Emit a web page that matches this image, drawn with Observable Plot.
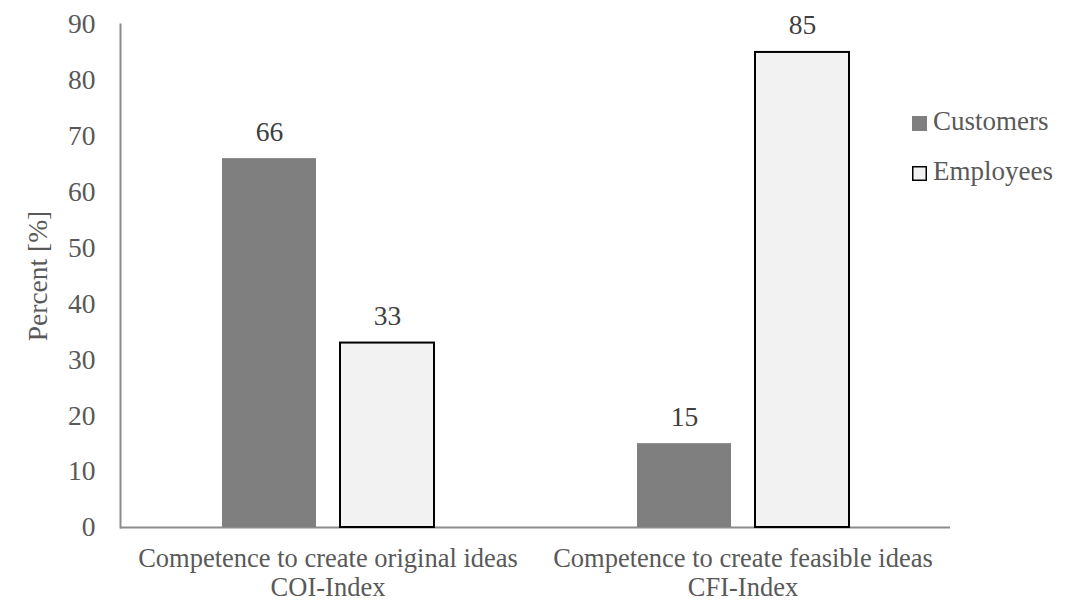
<!DOCTYPE html>
<html>
<head>
<meta charset="utf-8">
<script src="https://cdn.jsdelivr.net/npm/d3@7"></script>
<script src="https://cdn.jsdelivr.net/npm/@observablehq/plot@0.6"></script>
<style>
  html, body { margin: 0; padding: 0; background: #fff; }
  #wrap { position: relative; width: 1068px; height: 603px; }
  #chart { position: absolute; left: 0; top: 0; }
  #legend { position: absolute; left: 0; top: 0; }
  svg text { font-family: "Liberation Serif", "Times New Roman", Times, "DejaVu Serif", serif; }
</style>
</head>
<body>
<div id="wrap">
  <div id="chart"></div>
  <svg id="legend" width="1068" height="603"></svg>
</div>
<script>
const categories = ["Competence to create original ideas\nCOI-Index", "Competence to create feasible ideas\nCFI-Index"];
const seriesNames = ["Customers", "Employees"];
const customerValues = [66, 15];
const employeeValues = [33, 85];
const yTicks = [0, 10, 20, 30, 40, 50, 60, 70, 80, 90];
const seriesColors = ["#7f7f7f", "#f2f2f2"];

const customers = categories.map((c, i) => ({category: c, series: "Customers", value: customerValues[i]}));
const employees = categories.map((c, i) => ({category: c, series: "Employees", value: employeeValues[i]}));
const all = customers.concat(employees);

const axisColor = "#8c8c8c";
const textColor = "#595959";
const serif = "'Liberation Serif', 'Times New Roman', Times, 'DejaVu Serif', serif";

const chart = Plot.plot({
  width: 950,
  height: 603,
  marginLeft: 120,
  marginRight: 0,
  marginTop: 24,
  marginBottom: 76,
  style: {fontFamily: serif, fontSize: "27px", background: "transparent"},
  fx: {domain: categories, padding: 0, label: null},
  x: {domain: seriesNames, paddingInner: 0.2034, paddingOuter: 0.86, axis: null},
  y: {domain: [0, 90], label: null},
  marks: [
    Plot.axisY({ticks: yTicks, tickSize: 0, tickPadding: 25, color: textColor, fontSize: 27.5,
      label: "Percent [%]", labelAnchor: "center", labelOffset: 93, labelArrow: "none"}),
    Plot.axisFx({anchor: "bottom", tickSize: 0, tickPadding: 19, color: textColor, fontSize: 26.5,
      lineHeight: 1.09, label: null}),
    Plot.ruleY([0], {stroke: axisColor, strokeWidth: 2}),
    Plot.frame({anchor: "left", facetAnchor: "left", stroke: axisColor, strokeWidth: 2}),
    Plot.barY(customers, {fx: "category", x: "series", y: "value", fill: seriesColors[0]}),
    Plot.barY(employees, {fx: "category", x: "series", y: "value", fill: seriesColors[1], stroke: "#000", strokeWidth: 2}),
    Plot.text(all, {fx: "category", x: "series", y: "value", text: d => String(d.value),
      dy: -18, lineAnchor: "bottom", fill: "#404040", fontSize: 27.5})
  ]
});
document.getElementById("chart").appendChild(chart);

// legend (to the right of the plot)
const leg = d3.select("#legend");
const legX = 912, legBaselines = [130, 180];
seriesNames.forEach((s, i) => {
  const g = leg.append("g");
  g.append("rect")
    .attr("x", legX + (i === 1 ? 0.75 : 0)).attr("y", legBaselines[i] - 14 + (i === 1 ? 0.75 : 0))
    .attr("width", i === 1 ? 13.5 : 15).attr("height", i === 1 ? 13.5 : 15)
    .attr("fill", seriesColors[i])
    .attr("stroke", i === 1 ? "#000" : "none").attr("stroke-width", 1.5);
  g.append("text")
    .attr("x", legX + 21).attr("y", legBaselines[i])
    .attr("fill", textColor).attr("font-size", 27)
    .text(s);
});
</script>
</body>
</html>
